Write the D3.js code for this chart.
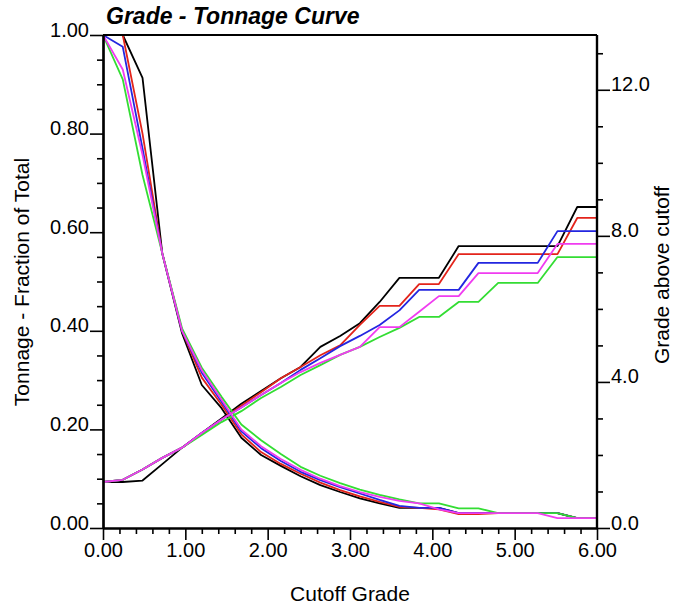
<!DOCTYPE html>
<html><head><meta charset="utf-8">
<script src="https://cdn.jsdelivr.net/npm/d3@7"></script>
<style>
body{margin:0;background:#fff}
text{font-family:"Liberation Sans",Arial,Helvetica,sans-serif;fill:#000}
</style></head>
<body><svg id="c" width="699" height="607"></svg>
<script>
// ---- data ----
const cutoff = [0.00,0.24,0.48,0.72,0.96,1.20,1.44,1.68,1.92,2.16,2.40,2.64,2.88,3.12,3.36,3.60,3.84,4.08,4.32,4.56,4.80,5.04,5.28,5.52,5.76,6.00];
const seriesNames = ["black","red","blue","green","magenta"];
const seriesColors = ["#000000","#e3241b","#2326e0","#33dd33","#f03cf0"];
const tonnageBlack   = [1.0,1.0,0.913,0.557,0.395,0.29,0.243,0.183,0.148,0.126,0.105,0.087,0.073,0.06,0.05,0.041,0.041,0.041,0.03,0.03,0.03,0.03,0.03,0.03,0.02,0.02];
const tonnageRed     = [1.0,1.0,0.80,0.557,0.40,0.305,0.25,0.19,0.154,0.13,0.11,0.092,0.077,0.064,0.053,0.043,0.041,0.038,0.028,0.028,0.03,0.03,0.03,0.03,0.02,0.02];
const tonnageBlue    = [1.0,0.976,0.77,0.557,0.40,0.315,0.256,0.196,0.162,0.136,0.114,0.097,0.083,0.07,0.057,0.045,0.041,0.041,0.03,0.03,0.03,0.03,0.03,0.03,0.02,0.02];
const tonnageGreen   = [1.0,0.91,0.716,0.557,0.405,0.325,0.266,0.21,0.178,0.15,0.124,0.106,0.091,0.078,0.067,0.058,0.05,0.05,0.04,0.04,0.03,0.03,0.03,0.03,0.02,0.02];
const tonnageMagenta = [1.0,0.93,0.757,0.557,0.40,0.32,0.26,0.20,0.166,0.14,0.118,0.10,0.085,0.073,0.063,0.055,0.05,0.038,0.03,0.03,0.03,0.03,0.03,0.02,0.02,0.02];
const gradeBlack   = [1.26,1.26,1.3,1.75,2.2,2.6,3.0,3.4,3.75,4.1,4.41,4.96,5.26,5.61,6.19,6.85,6.85,6.85,7.72,7.72,7.72,7.72,7.72,7.72,8.79,8.79];
const gradeRed     = [1.26,1.32,1.6,1.92,2.2,2.6,2.97,3.35,3.72,4.1,4.41,4.73,5.0,5.56,6.08,6.08,6.68,6.68,7.5,7.5,7.5,7.5,7.5,7.5,8.49,8.49];
const gradeBlue    = [1.26,1.32,1.6,1.92,2.2,2.6,2.97,3.3,3.64,3.97,4.33,4.65,4.98,5.26,5.56,5.96,6.52,6.52,6.52,7.26,7.26,7.26,7.26,8.13,8.13,8.13];
const gradeGreen   = [1.26,1.32,1.6,1.92,2.2,2.55,2.9,3.2,3.56,3.86,4.19,4.46,4.74,4.96,5.23,5.48,5.78,5.78,6.19,6.19,6.71,6.71,6.71,7.42,7.42,7.42];
const gradeMagenta = [1.26,1.32,1.6,1.92,2.2,2.6,2.97,3.3,3.64,3.97,4.27,4.52,4.74,4.96,5.5,5.5,5.92,6.35,6.35,6.98,6.98,6.98,6.98,7.78,7.78,7.78];
const tonnageSeries = [tonnageBlack,tonnageRed,tonnageBlue,tonnageGreen,tonnageMagenta];
const gradeSeries = [gradeBlack,gradeRed,gradeBlue,gradeGreen,gradeMagenta];
const xMajor = [0,1,2,3,4,5,6];
const xMinor = [0.2,0.4,0.6,0.8,1.2,1.4,1.6,1.8,2.2,2.4,2.6,2.8,3.2,3.4,3.6,3.8,4.2,4.4,4.6,4.8,5.2,5.4,5.6,5.8];
const yLMajor = [0,0.2,0.4,0.6,0.8,1.0];
const yLMinor = [0.05,0.1,0.15,0.25,0.3,0.35,0.45,0.5,0.55,0.65,0.7,0.75,0.85,0.9,0.95];
const yRMajor = [0,4,8,12];
const yRMinor = [1,2,3,5,6,7,9,10,11,13];

// ---- layout ----
const L=103,R=597,T=35,B=528;
const svg=d3.select("#c");
const x=d3.scaleLinear().domain([0,6]).range([L,R]);
const yL=d3.scaleLinear().domain([0,1]).range([B,T]);
const yR=d3.scaleLinear().domain([0,13.5]).range([B,T]);

svg.append("defs").append("clipPath").attr("id","clip").append("rect")
  .attr("x",L).attr("y",T-2).attr("width",R-L).attr("height",B-T+4);

const g=svg.append("g").attr("clip-path","url(#clip)");
const lineL=d3.line().x((d,i)=>x(cutoff[i])).y(d=>yL(d));
const lineR=d3.line().x((d,i)=>x(cutoff[i])).y(d=>yR(d));
seriesNames.forEach((n,k)=>{
  g.append("path").datum(tonnageSeries[k]).attr("d",lineL)
    .attr("fill","none").attr("stroke",seriesColors[k]).attr("stroke-width",1.8).attr("stroke-linejoin","round");
  g.append("path").datum(gradeSeries[k]).attr("d",lineR)
    .attr("fill","none").attr("stroke",seriesColors[k]).attr("stroke-width",1.8).attr("stroke-linejoin","round");
});

// axes
function styleAxis(sel){
  sel.select(".domain").attr("stroke","#000").attr("stroke-width",2.2);
  sel.selectAll(".tick line").attr("stroke","#000").attr("stroke-width",1.6);
}
const fs=20, fsT=21;
// left
const axL=svg.append("g").attr("transform",`translate(${L},0)`)
  .call(d3.axisLeft(yL).tickValues(yLMinor).tickSize(6).tickFormat("").tickSizeOuter(0));
styleAxis(axL);
const axL2=svg.append("g").attr("transform",`translate(${L},0)`)
  .call(d3.axisLeft(yL).tickValues(yLMajor).tickSize(13).tickFormat(d3.format(".2f")).tickSizeOuter(0));
styleAxis(axL2);
axL2.selectAll(".tick text").attr("dy","0.05em").attr("x",-14).style("font-size",fs+"px");
// right
const axR=svg.append("g").attr("transform",`translate(${R},0)`)
  .call(d3.axisRight(yR).tickValues(yRMinor).tickSize(6).tickFormat("").tickSizeOuter(0));
styleAxis(axR);
axR.select(".domain").attr("d",`M0,${T}V${B}`);
const axR2=svg.append("g").attr("transform",`translate(${R},0)`)
  .call(d3.axisRight(yR).tickValues(yRMajor).tickSize(13).tickFormat(d3.format(".1f")).tickSizeOuter(0));
styleAxis(axR2);
axR2.select(".domain").attr("d",`M0,${T}V${B}`);
axR2.selectAll(".tick text").attr("dy","0.05em").attr("x",14).style("font-size",fs+"px");
// bottom
const axB=svg.append("g").attr("transform",`translate(0,${B})`)
  .call(d3.axisBottom(x).tickValues(xMinor).tickSize(6).tickFormat("").tickSizeOuter(0));
styleAxis(axB);
const axB2=svg.append("g").attr("transform",`translate(0,${B})`)
  .call(d3.axisBottom(x).tickValues(xMajor).tickSize(12).tickFormat(d3.format(".2f")).tickSizeOuter(0));
styleAxis(axB2);
axB2.selectAll(".tick text").attr("y",15).attr("dy","0.71em").style("font-size",fs+"px");
svg.selectAll(".tick text").attr("font-family",null);
// top frame
svg.append("line").attr("x1",L).attr("x2",R).attr("y1",T).attr("y2",T).attr("stroke","#000").attr("stroke-width",2.2);

// titles
svg.append("text").attr("x",106).attr("y",24).style("font-size","23px").style("font-weight","bold").style("font-style","italic")
  .text("Grade - Tonnage Curve");
svg.append("text").attr("transform","translate(29,282) rotate(-90)").attr("text-anchor","middle").style("font-size",fsT+"px")
  .text("Tonnage - Fraction of Total");
svg.append("text").attr("transform","translate(669,275) rotate(-90)").attr("text-anchor","middle").style("font-size",fsT+"px")
  .text("Grade above cutoff");
svg.append("text").attr("x",350).attr("y",601).attr("text-anchor","middle").style("font-size",fsT+"px")
  .text("Cutoff Grade");
</script></body></html>
